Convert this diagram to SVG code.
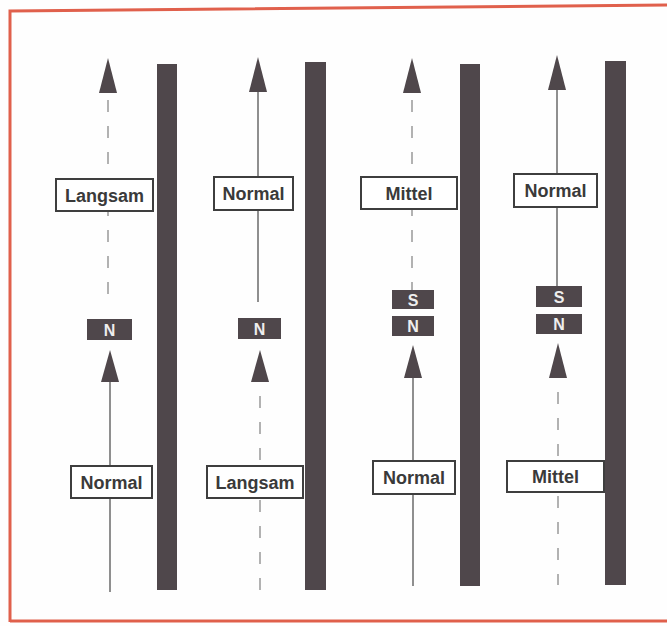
<svg xmlns="http://www.w3.org/2000/svg" width="667" height="626" viewBox="0 0 667 626">
<style>
.bg{fill:#fefefe}
.frame{fill:none;stroke:#e0604c;stroke-width:3}
.bar{fill:#4f474b}
.sol{stroke:#6a6a6a;stroke-width:1.5;fill:none}
.dash{stroke:#999;stroke-width:1.5;fill:none;stroke-dasharray:12 14}
.head{fill:#4f474b}
.lbl rect{fill:#fff;stroke:#3e3e3e;stroke-width:2}
.lbl text{font-family:"Liberation Sans",Arial,sans-serif;font-weight:bold;font-size:18px;fill:#3a3a3a;text-anchor:middle}
.pole rect{fill:#4f474b}
.pole text{font-family:"Liberation Sans",Arial,sans-serif;font-weight:bold;font-size:16px;fill:#eee;text-anchor:middle}
</style>
<rect class="bg" x="0" y="0" width="667" height="626"/>
<path class="frame" d="M10,622 L10,11 L667,5 M10,621 L667,621"/>

<g id="bars">
<rect class="bar" x="157" y="64" width="20" height="526"/>
<rect class="bar" x="305" y="62" width="21" height="528"/>
<rect class="bar" x="460" y="64" width="20" height="522"/>
<rect class="bar" x="605" y="61" width="21" height="524"/>
</g>

<g id="connectors">
<line class="dash" x1="108" y1="100" x2="108" y2="300"/>
<polygon class="head" points="108,58 99,93 117,93"/>
<line class="sol" x1="110" y1="380" x2="110" y2="592"/>
<polygon class="head" points="110,350 101,382 119,382"/>
<line class="sol" x1="258" y1="92" x2="258" y2="302"/>
<polygon class="head" points="258,57 249,92 267,92"/>
<line class="dash" x1="260" y1="396" x2="260" y2="590"/>
<polygon class="head" points="260,350 251,382 269,382"/>
<line class="dash" x1="412" y1="100" x2="412" y2="290"/>
<polygon class="head" points="412,58 403,93 421,93"/>
<line class="sol" x1="413" y1="376" x2="413" y2="586"/>
<polygon class="head" points="413,345 404,378 422,378"/>
<line class="sol" x1="557" y1="90" x2="557" y2="286"/>
<polygon class="head" points="557,55 548,90 566,90"/>
<line class="dash" x1="558" y1="392" x2="558" y2="585"/>
<polygon class="head" points="558,343 549,378 567,378"/>
</g>

<g id="c1-top" class="lbl"><rect x="56" y="179" width="97" height="32"/><text x="104.5" y="201.5">Langsam</text></g>
<g id="c1-bottom" class="lbl"><rect x="71" y="466" width="81" height="32"/><text x="111.5" y="488.5">Normal</text></g>
<g id="c2-top" class="lbl"><rect x="214" y="177" width="79" height="33"/><text x="253.5" y="199.5">Normal</text></g>
<g id="c2-bottom" class="lbl"><rect x="207" y="466" width="96" height="32"/><text x="255" y="488.5">Langsam</text></g>
<g id="c3-top" class="lbl"><rect x="361" y="177" width="96" height="32"/><text x="409" y="199.5">Mittel</text></g>
<g id="c3-bottom" class="lbl"><rect x="373" y="461" width="82" height="33"/><text x="414" y="483.5">Normal</text></g>
<g id="c4-top" class="lbl"><rect x="514" y="174" width="83" height="33"/><text x="555.5" y="196.5">Normal</text></g>
<g id="c4-bottom" class="lbl"><rect x="507" y="461" width="97" height="31"/><text x="555.5" y="482.5">Mittel</text></g>

<g id="c1-n" class="pole"><rect x="87" y="319" width="45" height="21"/><text x="109.5" y="335.5">N</text></g>
<g id="c2-n" class="pole"><rect x="238" y="318" width="43" height="21"/><text x="259.5" y="334.5">N</text></g>
<g id="c3-s" class="pole"><rect x="392" y="290" width="42" height="19"/><text x="413" y="305.5">S</text></g>
<g id="c3-n" class="pole"><rect x="392" y="316" width="42" height="20"/><text x="413" y="332">N</text></g>
<g id="c4-s" class="pole"><rect x="536" y="286" width="46" height="21"/><text x="559" y="302.5">S</text></g>
<g id="c4-n" class="pole"><rect x="536" y="314" width="46" height="20"/><text x="559" y="330">N</text></g>
</svg>
